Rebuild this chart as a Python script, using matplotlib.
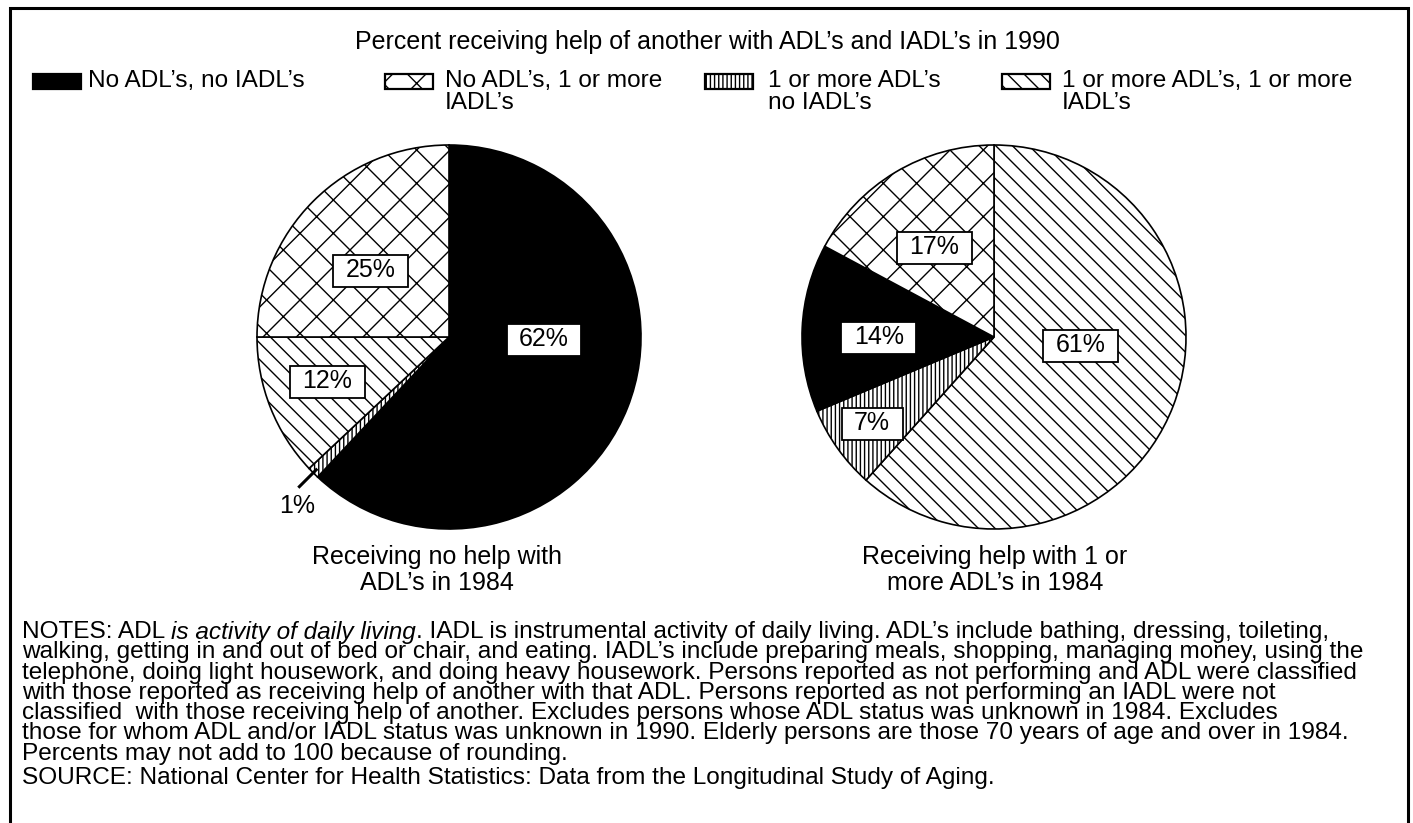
import matplotlib
matplotlib.use("Agg")
import matplotlib.pyplot as plt
from matplotlib.patches import Rectangle
import numpy as np

# ---------------- data ----------------
title = "Percent receiving help of another with ADL’s and IADL’s in 1990"
categories = [
    "No ADL’s, no IADL’s",
    "No ADL’s, 1 or more\nIADL’s",
    "1 or more ADL’s\nno IADL’s",
    "1 or more ADL’s, 1 or more\nIADL’s",
]
# pie 1: receiving no help with ADL's in 1984 (clockwise from 12 o'clock)
left_categories = [0, 2, 3, 1]
left_values = [62, 1, 12, 25]
left_title = "Receiving no help with\nADL’s in 1984"
# pie 2: receiving help with 1 or more ADL's in 1984
right_categories = [3, 2, 0, 1]
right_values = [61, 7, 14, 17]
right_title = "Receiving help with 1 or\nmore ADL’s in 1984"

notes_first = [("NOTES: ADL ", "normal"), ("is activity of daily living", "italic"),
               (". IADL is instrumental activity of daily living. ADL’s include bathing, dressing, toileting,", "normal")]
notes_lines = [
    "walking, getting in and out of bed or chair, and eating. IADL’s include preparing meals, shopping, managing money, using the",
    "telephone, doing light housework, and doing heavy housework. Persons reported as not performing and ADL were classified",
    "with those reported as receiving help of another with that ADL. Persons reported as not performing an IADL were not",
    "classified  with those receiving help of another. Excludes persons whose ADL status was unknown in 1984. Excludes",
    "those for whom ADL and/or IADL status was unknown in 1990. Elderly persons are those 70 years of age and over in 1984.",
    "Percents may not add to 100 because of rounding.",
]
source = "SOURCE: National Center for Health Statistics: Data from the Longitudinal Study of Aging."

# ---------------- style ----------------
W, H = 1413, 823
plt.rcParams["font.family"] = ["Liberation Sans", "DejaVu Sans"]
plt.rcParams["hatch.linewidth"] = 1.0
face = ["black", "white", "white", "white"]
hatch = [None, "x", "||||", "\\\\"]
legend_hatch = [None, "x", "||||", "\\\\"]
FS = 18

fig = plt.figure(figsize=(W / 100, H / 100), dpi=100)
ax = fig.add_axes([0, 0, 1, 1])


def Y(py):
    return H - py


R = 192
CY = 337


def draw_pie(values, cats, cx):
    wedges, _ = ax.pie(values, colors=[face[c] for c in cats],
                       hatch=[hatch[c] for c in cats],
                       center=(cx, Y(CY)), radius=R, startangle=90,
                       counterclock=False, frame=True,
                       wedgeprops=dict(edgecolor="black", linewidth=1.2))
    return wedges


lw_ = draw_pie(left_values, left_categories, 449)
rw_ = draw_pie(right_values, right_categories, 994)

ax.set_xlim(0, W)
ax.set_ylim(0, H)
ax.axis("off")

fig.canvas.draw()
rend = fig.canvas.get_renderer()


def boxed(x, y, s):
    t = ax.text(x, y, s, ha="center", va="center", fontsize=FS, zorder=5)
    bb = t.get_window_extent(renderer=rend)
    w = bb.width + 25
    h = 32
    ax.add_patch(Rectangle((x - w / 2, y - h / 2 - 1), w, h, facecolor="white",
                           edgecolor="black", linewidth=1.3, zorder=4))


# label offsets (fraction of radius, y up)
left_off = [(0.495, -0.01), None, (-0.635, -0.23), (-0.41, 0.35)]
right_off = [(0.45, -0.04), (-0.635, -0.45), (-0.60, 0.0), (-0.31, 0.47)]

for wedges, vals, offs, cx in [(lw_, left_values, left_off, 449),
                               (rw_, right_values, right_off, 994)]:
    for w, v, o in zip(wedges, vals, offs):
        if o is None:
            th = np.deg2rad((w.theta1 + w.theta2) / 2)
            x0 = cx + R * 0.97 * np.cos(th)
            y0 = Y(CY) + R * 0.97 * np.sin(th)
            x1 = cx + R * 1.11 * np.cos(th)
            y1 = Y(CY) + R * 1.11 * np.sin(th)
            ax.plot([x0, x1], [y0, y1], color="black", lw=2.2, zorder=5,
                    solid_capstyle="butt")
            ax.text(x1 - 1, y1 - 18, f"{v}%", ha="center", va="center",
                    fontsize=FS, zorder=5)
        else:
            boxed(cx + R * o[0], Y(CY) + R * o[1], f"{v}%")


def lines(x, y, s, spacing, fs, ha="left"):
    for i, ln in enumerate(s.split("\n")):
        ax.text(x, Y(y + i * spacing), ln, ha=ha, va="center", fontsize=fs)


# title
ax.text(707, Y(42), title, ha="center", va="center", fontsize=FS)

# legend
leg_box_x = [33, 385, 705, 1002]
leg_text_x = [88, 445, 768, 1062]
for i, c in enumerate(categories):
    ax.add_patch(Rectangle((leg_box_x[i], Y(89)), 48, 15, facecolor=face[i],
                           hatch=legend_hatch[i], edgecolor="black", linewidth=1.6))
    lines(leg_text_x[i], 81, c, 22, 17.6)

# captions
lines(437, 557, left_title, 25.5, FS, ha="center")
lines(995, 557, right_title, 25.5, FS, ha="center")

# notes
NFS = 17.6
SP = 20.3
x = 22
y0 = 632
for seg, st in notes_first:
    t = ax.text(x, Y(y0), seg, ha="left", va="center", fontsize=NFS, style=st)
    x += t.get_window_extent(renderer=rend).width
for i, ln in enumerate(notes_lines):
    ax.text(22, Y(y0 + (i + 1) * SP), ln, ha="left", va="center", fontsize=NFS)
ax.text(22, Y(778), source, ha="left", va="center", fontsize=NFS)

# border
ax.add_patch(Rectangle((10, -20), 1398, Y(8) + 20, fill=False, edgecolor="black",
                       linewidth=2.2))

fig.savefig("out.png", dpi=100)
